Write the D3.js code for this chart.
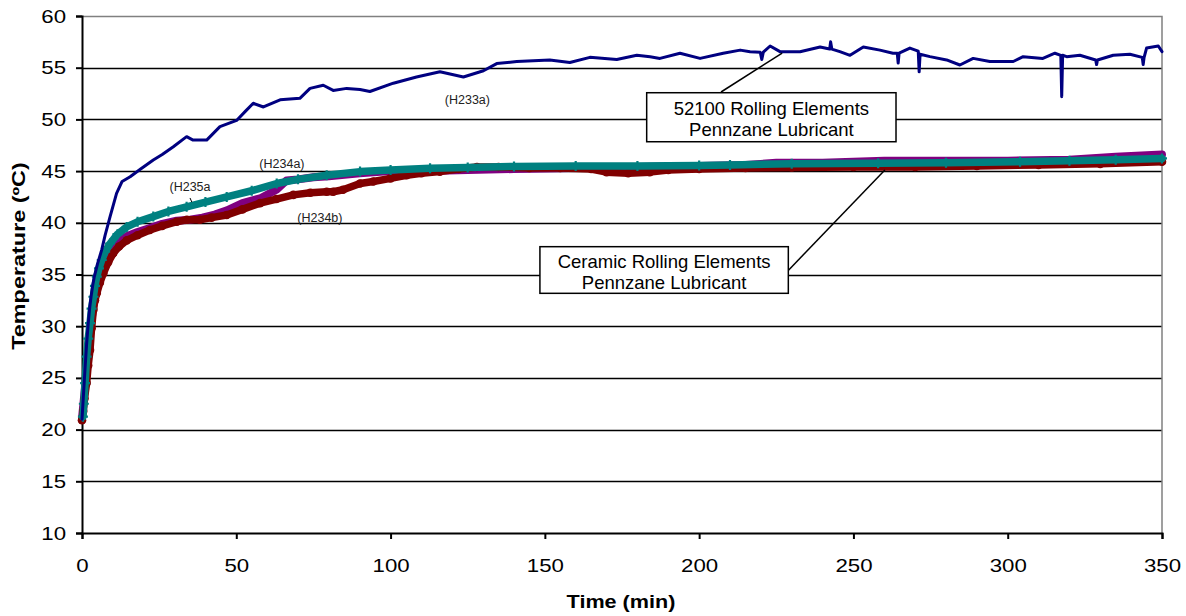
<!DOCTYPE html>
<html>
<head>
<meta charset="utf-8">
<script src="https://cdn.jsdelivr.net/npm/d3@7"></script>
<style>
  html, body { margin: 0; padding: 0; background: #fff; }
  svg { display: block; font-family: "Liberation Sans", Arial, sans-serif; }
</style>
</head>
<body>
<svg id="chart" width="1186" height="616"></svg>
<script>
// Bearing temperature vs. time, [minutes, °C]
const h233a = [[0,21.0],[0.5,23.5],[1,26],[1.5,28.3],[2,30.2],[2.5,31.8],[3,33.0],[3.5,34.0],[4,34.8],[5,36.0],[6.4,37.4],[7.5,38.8],[9.1,40.6],[11.2,42.85],[13,44.0],[15.6,44.46],[19,45.2],[23.1,46.07],[26,46.6],[29.6,47.36],[33.9,48.33],[36,48.0],[40.4,48.0],[44.7,49.3],[50.1,49.9],[53,50.8],[55.5,51.56],[58.8,51.2],[64.2,51.9],[70.6,52.04],[73.9,53.0],[78.2,53.3],[81.4,52.8],[85.8,53.0],[90.1,52.9],[93.3,52.7],[100.9,53.5],[108.4,54.1],[116,54.6],[123.6,54.1],[130.1,54.7],[134.4,55.4],[140.9,55.6],[151.6,55.75],[158.1,55.5],[164.6,56.0],[173.3,55.8],[179.8,56.2],[184.1,56.05],[187.3,55.9],[193.8,56.4],[200.3,55.9],[207.8,56.4],[213.3,56.7],[216.5,56.55],[219.8,56.5],[220.3,55.8],[220.8,56.5],[223,57.1],[226.2,56.55],[232.7,56.55],[239.2,57.0],[242.3,56.8],[242.6,57.5],[243,56.8],[245.6,56.55],[248.9,56.2],[253.2,57.0],[258.6,56.7],[262.8,56.4],[264.2,56.4],[264.5,55.45],[264.8,56.4],[268.3,56.9],[271,56.6],[271.3,54.6],[271.6,56.3],[274.8,56.07],[280.2,55.75],[284.5,55.26],[288.8,55.9],[294.2,55.6],[301.8,55.6],[305,56.07],[311.4,55.9],[315.3,56.4],[317.2,56.2],[317.5,52.2],[317.8,56.2],[319.1,56.07],[323.4,56.2],[328.5,55.75],[328.8,55.3],[329.1,55.75],[334.2,56.2],[339.6,56.3],[343.6,56.0],[343.9,55.3],[344.2,56.0],[345,56.9],[348.8,57.1],[350,56.55]];

const h234a = [[0,21.1],[0.5,22.6],[1,24.2],[1.5,26.0],[2,27.7],[2.6,29.2],[3.2,30.8],[3.7,32.0],[4.3,33.0],[4.8,33.8],[5.8,35.0],[6.9,35.8],[8.5,36.9],[10.1,37.6],[12,38.2],[14.5,38.7],[18,39.1],[22,39.5],[26,39.9],[30.7,40.2],[35,40.3],[39,40.5],[43,40.8],[47,41.2],[52,41.9],[58,42.4],[63,43.2],[66.3,44.1],[70,44.2],[75,44.4],[80,44.5],[90,44.8],[100,45.0],[112,45.0],[125,45.1],[140,45.2],[160,45.3],[180,45.4],[200,45.5],[215,45.6],[225,45.8],[240,45.8],[260,46.0],[280,46.0],[300,46.0],[320,46.1],[335,46.4],[350,46.6]];

const h234b = [[0,20.9],[0.4,21.8],[0.8,23.0],[1.5,24.5],[2,26.2],[2.6,27.7],[3.1,29.8],[3.7,31.6],[4.2,32.5],[4.8,33.2],[5.8,34.2],[6.9,35.1],[8.5,36.2],[10.1,37.05],[12,37.7],[14.5,38.3],[18,38.8],[22,39.3],[26,39.7],[30.7,40.1],[34,40.3],[38.2,40.3],[42,40.5],[46.9,40.75],[52,41.3],[57.7,41.9],[63,42.3],[68.5,42.7],[74,42.9],[79.3,43.0],[81.4,43.0],[84.6,43.2],[90.1,43.8],[94.4,44.0],[100,44.3],[105.2,44.6],[110,44.8],[116,44.95],[122,45.2],[128,45.4],[135,45.4],[145,45.3],[155,45.3],[165,45.2],[170,44.9],[177,44.8],[184,44.9],[190,45.1],[200,45.2],[215,45.3],[230,45.35],[250,45.4],[270,45.4],[290,45.5],[310,45.6],[330,45.7],[350,45.9]];

const h235a = [[0.3,21.25],[0.6,22.5],[1,24.5],[1.5,27.05],[2,28.8],[2.6,30.3],[3.1,31.7],[3.7,32.85],[4.2,33.9],[4.8,34.8],[5.5,35.6],[6.4,36.4],[7.5,37.2],[9.1,38.0],[11.5,38.9],[14.5,39.6],[18,40.1],[23.1,40.6],[28,41.1],[33.9,41.55],[40,42.0],[46.9,42.5],[55,43.1],[63.1,43.8],[70,44.2],[79.3,44.6],[90.1,44.95],[100,45.1],[112.8,45.27],[125,45.35],[140,45.45],[160,45.5],[180,45.5],[200,45.55],[210,45.6],[230,45.7],[258,45.75],[280,45.8],[304,45.9],[320,46.0],[335,46.1],[350,46.23]];

const xTicks = [0, 50, 100, 150, 200, 250, 300, 350];
const yTicks = [10, 15, 20, 25, 30, 35, 40, 45, 50, 55, 60];

// Run labels placed next to their traces (data coordinates)
const runLabels = [
  { text: "(H233a)", t: 124.9, v: 51.9 },
  { text: "(H234a)", t: 64.8, v: 45.7 },
  { text: "(H235a", t: 35.0, v: 43.5 },
  { text: "(H234b)", t: 77.1, v: 40.5 }
];

// Callout boxes in data coordinates, with a leader line to the traces
const callouts = [
  { lines: ["52100 Rolling Elements", "Pennzane Lubricant"], t0: 183.0, v0: 52.58, t1: 263.8, v1: 47.84, from: [207.1, 52.65], to: [226.9, 56.42] },
  { lines: ["Ceramic Rolling Elements", "Pennzane Lubricant"], t0: 148.4, v0: 37.69, t1: 228.9, v1: 33.18, from: [228.8, 35.37], to: [260.2, 45.1] }
];

const svg = d3.select("#chart");
const x = d3.scaleLinear().domain([0, 350]).range([82, 1162]);
const y = d3.scaleLinear().domain([10, 60]).range([533, 16]);

// widen a text element horizontally by a factor
function widen(sel, k) {
  sel.each(function () {
    const w = this.getComputedTextLength();
    d3.select(this).attr("textLength", w * k).attr("lengthAdjust", "spacingAndGlyphs");
  });
}

// Horizontal gridlines
svg.append("g").selectAll("line")
  .data(yTicks.filter(d => d > 10 && d < 60))
  .join("line")
  .attr("x1", x(0)).attr("x2", x(350))
  .attr("y1", d => Math.round(y(d)) + 0.5).attr("y2", d => Math.round(y(d)) + 0.5)
  .attr("stroke", "#000").attr("stroke-width", 1.3);

// Plot frame (top and right edges)
svg.append("path")
  .attr("d", `M${x(0)},${Math.round(y(60)) + 0.5}H${x(350)}V${y(10)}`)
  .attr("fill", "none").attr("stroke", "#808080").attr("stroke-width", 1.5);

// Axes
const yAxis = d3.axisLeft(y).tickValues(yTicks).tickSize(6).tickPadding(10);
const xAxis = d3.axisBottom(x).tickValues(xTicks).tickSize(6).tickPadding(20);

const gy = svg.append("g").attr("transform", `translate(${x(0)},0)`).call(yAxis);
const gx = svg.append("g").attr("transform", `translate(0,${y(10)})`).call(xAxis);
[gy, gx].forEach(g => {
  g.select(".domain").attr("stroke", "#000").attr("stroke-width", 2);
  g.selectAll(".tick line").attr("stroke", "#000").attr("stroke-width", 2);
  g.selectAll(".tick text").attr("fill", "#000")
    .style("font-family", "'Liberation Sans', Arial, sans-serif").style("font-size", "19px")
    .call(widen, 1.17);
});

// Traces
const line = d3.line().x(d => x(d[0])).y(d => y(d[1]));

const series = [
  { data: h234a, color: "#800080", width: 8, marker: "none" },
  { data: h234b, color: "#800000", width: 7.5, marker: "circle" },
  { data: h235a, color: "#008080", width: 7.5, marker: "plus" },
  { data: h233a, color: "#000080", width: 3, marker: "none" }
];

series.forEach(s => {
  svg.append("path").datum(s.data)
    .attr("d", line)
    .attr("fill", "none")
    .attr("stroke", s.color)
    .attr("stroke-width", s.width)
    .attr("stroke-linejoin", "round")
    .attr("stroke-linecap", "round");
  if (s.marker === "circle") {
    svg.append("g").selectAll("circle").data(s.data).join("circle")
      .attr("cx", d => x(d[0])).attr("cy", d => y(d[1])).attr("r", 4.3)
      .attr("fill", s.color);
  } else if (s.marker === "plus") {
    svg.append("g").selectAll("path").data(s.data).join("path")
      .attr("d", d => {
        const cx = x(d[0]), cy = y(d[1]);
        return `M${cx - 5},${cy}H${cx + 5}M${cx},${cy - 5}V${cy + 5}`;
      })
      .attr("stroke", s.color).attr("stroke-width", 2.2).attr("fill", "none");
  }
});

// Run labels
svg.append("g").selectAll("text").data(runLabels).join("text")
  .attr("x", d => x(d.t)).attr("y", d => y(d.v))
  .attr("text-anchor", "middle").attr("dominant-baseline", "central")
  .style("font-size", "12.5px").attr("fill", "#222")
  .text(d => d.text);

// small leader under the H235a label
svg.append("line")
  .attr("x1", x(35.0)).attr("y1", y(42.4)).attr("x2", x(35.6)).attr("y2", y(42.0))
  .attr("stroke", "#000").attr("stroke-width", 1);

// Callouts
callouts.forEach(c => {
  svg.append("line")
    .attr("x1", x(c.from[0])).attr("y1", y(c.from[1]))
    .attr("x2", x(c.to[0])).attr("y2", y(c.to[1]))
    .attr("stroke", "#000").attr("stroke-width", 1.5);
  const x0 = x(c.t0), x1 = x(c.t1), y0 = y(c.v0), y1 = y(c.v1);
  svg.append("rect")
    .attr("x", x0).attr("y", y0).attr("width", x1 - x0).attr("height", y1 - y0)
    .attr("fill", "#fff").attr("stroke", "#000").attr("stroke-width", 1.5);
  const cx = (x0 + x1) / 2, h = y1 - y0;
  svg.append("text")
    .attr("x", cx).attr("y", y0 + h * 0.32)
    .attr("text-anchor", "middle").attr("dominant-baseline", "central")
    .style("font-size", "18.5px").attr("fill", "#000").text(c.lines[0]);
  svg.append("text")
    .attr("x", cx).attr("y", y0 + h * 0.76)
    .attr("text-anchor", "middle").attr("dominant-baseline", "central")
    .style("font-size", "18.5px").attr("fill", "#000").text(c.lines[1]);
});

// Axis titles
svg.append("text")
  .attr("transform", `translate(19,256) rotate(-90)`)
  .attr("text-anchor", "middle").attr("dominant-baseline", "central")
  .style("font-size", "18px").style("font-weight", "bold").attr("fill", "#000")
  .text("Temperature (ºC)")
  .call(widen, 1.3);

svg.append("text")
  .attr("x", 621).attr("y", 602)
  .attr("text-anchor", "middle").attr("dominant-baseline", "central")
  .style("font-size", "18px").style("font-weight", "bold").attr("fill", "#000")
  .text("Time (min)")
  .call(widen, 1.2);
</script>
</body>
</html>
